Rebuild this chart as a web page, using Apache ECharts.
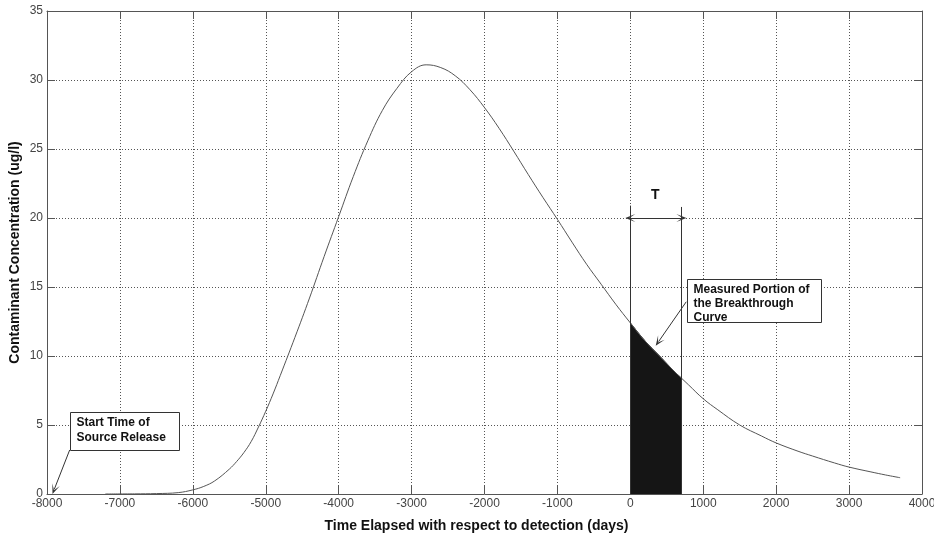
<!DOCTYPE html>
<html>
<head>
<meta charset="utf-8">
<script src="https://cdn.jsdelivr.net/npm/echarts@6/dist/echarts.min.js"></script>
<style>
  html, body { margin: 0; padding: 0; background: #fff; }
  #chart { width: 934px; height: 538px; }
</style>
</head>
<body>
<div id="chart"></div>
<script>
// breakthrough curve (days, ug/l)
const days = [-7200, -6800, -6500, -6200, -6000, -5850, -5700, -5500, -5400, -5300, -5200, -5100, -5000,
  -4900, -4800, -4600, -4400, -4200, -4000, -3800, -3600, -3400, -3200, -3000, -2800, -2600,
  -2400, -2200, -2000, -1800, -1600, -1400, -1200, -1000, -800, -600, -400, -200,
  0, 200, 400, 600, 700, 800, 1000, 1200, 1500, 1800, 2000, 2300, 2500, 2800, 3000,
  3300, 3500, 3700];
const conc = [0, 0.01, 0.03, 0.1, 0.3, 0.55, 0.95, 1.8, 2.35, 3.0, 3.8, 4.85, 6.0,
  7.25, 8.6, 11.35, 14.2, 17.2, 20.1, 23.0, 25.6, 27.8, 29.4, 30.6, 31.1, 30.9,
  30.3, 29.3, 28.0, 26.5, 24.85, 23.15, 21.5, 19.9, 18.25, 16.65, 15.2, 13.75,
  12.4, 11.1, 10.0, 8.9, 8.4, 7.9, 6.9, 6.1, 5.0, 4.2, 3.7, 3.1, 2.75, 2.25, 1.95,
  1.6, 1.38, 1.18];

const xTicks = { min: -8000, max: 4000, interval: 1000 };
const yTicks = { min: 0, max: 35, interval: 5 };

// measured window T
const windowStart = 0;
const windowEnd = 700;
const windowTop = 20.9;
const arrowY = 20;

const curve = days.map((d, i) => [d, conc[i]]);
const measured = curve.filter((p) => p[0] >= windowStart && p[0] <= windowEnd);

const font = "'Liberation Sans', Arial, sans-serif";
const narrow = "'Liberation Sans Narrow', 'Liberation Sans', Arial, sans-serif";
const chevron = "path://M0,10 L5,0 L10,10 L5,4 Z";

const chart = echarts.init(document.getElementById("chart"));

const frameAxis = {
  type: "value",
  axisLine: { show: true, onZero: false, lineStyle: { color: "#555", width: 1 } },
  axisTick: { show: true, inside: true, length: 8, lineStyle: { color: "#555" } },
  axisLabel: { show: false },
  splitLine: { show: false },
};

chart.setOption({
  animation: false,
  grid: { left: 47, right: 12, top: 11, bottom: 44, containLabel: false, outerBoundsMode: "none" },
  xAxis: [
    {
      type: "value",
      min: xTicks.min,
      max: xTicks.max,
      interval: xTicks.interval,
      name: "Time Elapsed with respect to detection (days)",
      nameLocation: "middle",
      nameMoveOverlap: false,
      nameGap: 25,
      nameTextStyle: { fontFamily: font, fontWeight: "bold", fontSize: 14, color: "#111", padding: [0, 16, 0, 0] },
      axisLine: { show: true, onZero: false, lineStyle: { color: "#555", width: 1 } },
      axisTick: { show: true, inside: true, length: 8, lineStyle: { color: "#555" } },
      axisLabel: { fontFamily: narrow, fontSize: 12, color: "#444", margin: 4, formatter: (v) => String(v) },
      splitLine: { show: true, lineStyle: { color: "#555", type: [1, 2], width: 1 } },
    },
    Object.assign({}, frameAxis, { position: "top", min: xTicks.min, max: xTicks.max, interval: xTicks.interval }),
  ],
  yAxis: [
    {
      type: "value",
      min: yTicks.min,
      max: yTicks.max,
      interval: yTicks.interval,
      name: "Contaminant Concentration (ug/l)",
      nameLocation: "middle",
      nameMoveOverlap: false,
      nameGap: 25,
      nameTextStyle: { fontFamily: font, fontWeight: "bold", fontSize: 14, color: "#111" },
      axisLine: { show: true, onZero: false, lineStyle: { color: "#555", width: 1 } },
      axisTick: { show: true, inside: true, length: 8, lineStyle: { color: "#555" } },
      axisLabel: { fontFamily: narrow, fontSize: 12, color: "#444", margin: 4 },
      splitLine: { show: true, lineStyle: { color: "#555", type: [1, 2], width: 1 } },
    },
    Object.assign({}, frameAxis, { position: "right", min: yTicks.min, max: yTicks.max, interval: yTicks.interval }),
  ],
  series: [
    {
      name: "measured",
      type: "line",
      data: measured,
      smooth: 0.4,
      symbol: "none",
      lineStyle: { color: "#151515", width: 1 },
      areaStyle: { color: "#151515", opacity: 1 },
      z: 2,
    },
    {
      name: "curve",
      type: "line",
      data: curve,
      smooth: 0.4,
      symbol: "none",
      lineStyle: { color: "#555", width: 1 },
      z: 3,
      markLine: {
        silent: true,
        label: { show: false },
        lineStyle: { color: "#333", width: 1, type: "solid" },
        symbolSize: [8, 10],
        data: [
          [{ coord: [windowStart, 0], symbol: "none" }, { coord: [windowStart, windowTop], symbol: "none" }],
          [{ coord: [windowEnd, 0], symbol: "none" }, { coord: [windowEnd, windowTop - 0.1], symbol: "none" }],
          [{ coord: [windowStart, arrowY], symbol: chevron }, { coord: [windowEnd, arrowY], symbol: chevron }],
          [{ coord: [-7689, 3.19], symbol: "none" }, { coord: [-7900, 0.34], symbol: chevron }],
          [{ coord: [767, 13.93], symbol: "none" }, { coord: [387, 11.04], symbol: chevron }],
        ],
      },
    },
  ],
});

// text boxes anchored at data positions (top-left corners)
function note(at, w, h, text, lineHeight) {
  const p = chart.convertToPixel({ xAxisIndex: 0, yAxisIndex: 0 }, at);
  return {
    type: "group",
    x: Math.round(p[0]) + 0.5,
    y: Math.round(p[1]) + 0.5,
    z: 100,
    children: [
      { type: "rect", shape: { x: 0, y: 0, width: w, height: h }, style: { fill: "#fff", stroke: "#333", lineWidth: 1 } },
      {
        type: "text",
        x: 6,
        y: 3,
        style: { text: text, fontFamily: font, fontWeight: "bold", fontSize: 12, lineHeight: lineHeight, fill: "#111" },
      },
    ],
  };
}

const tPos = chart.convertToPixel({ xAxisIndex: 0, yAxisIndex: 0 }, [342, 21.67]);

chart.setOption({
  graphic: [
    note([-7689, 5.94], 109, 38, "Start Time of\nSource Release", 15),
    note([777, 15.58], 134, 43, "Measured Portion of\nthe Breakthrough\nCurve", 14),
    {
      type: "text",
      x: tPos[0],
      y: tPos[1],
      z: 100,
      style: { text: "T", fontFamily: font, fontWeight: "bold", fontSize: 14, fill: "#111", align: "center", verticalAlign: "middle" },
    },
  ],
});
</script>
</body>
</html>
